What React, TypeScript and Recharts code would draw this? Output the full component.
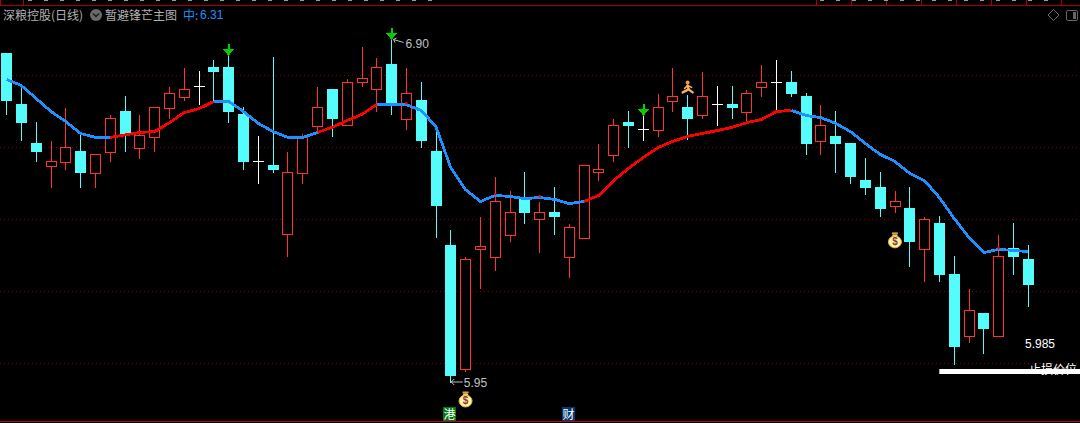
import React from "react";
import { ComposedChart, Bar, Line, XAxis, YAxis, CartesianGrid, ReferenceDot, ReferenceLine } from "recharts";

const opens = [
  6.864, 6.722, 6.614, 6.55, 6.561, 6.592, 6.531, 6.589, 6.703, 6.6,
  6.631, 6.711, 6.742, 6.772, 6.825, 6.825, 6.694, 6.564, 6.553, 6.361,
  6.531, 6.661, 6.764, 6.664, 6.783, 6.764, 6.833, 6.681, 6.733, 6.592,
  6.331, 5.986, 6.319, 6.297, 6.358, 6.458, 6.403, 6.422, 6.297, 6.35,
  6.533, 6.581, 6.672, 6.653, 6.65, 6.731, 6.714, 6.692, 6.722, 6.722,
  6.7, 6.769, 6.783, 6.783, 6.744, 6.619, 6.633, 6.614, 6.511, 6.492,
  6.439, 6.433, 6.319, 6.392, 6.25, 6.078, 6.142, 6.078, 6.322, 6.292,
];
const closes = [
  6.733, 6.672, 6.592, 6.564, 6.603, 6.533, 6.583, 6.683, 6.642, 6.636,
  6.714, 6.753, 6.764, 6.772, 6.814, 6.703, 6.564, 6.564, 6.542, 6.533,
  6.633, 6.714, 6.683, 6.783, 6.794, 6.825, 6.722, 6.753, 6.622, 6.442,
  5.969, 6.292, 6.328, 6.453, 6.422, 6.422, 6.422, 6.411, 6.381, 6.553,
  6.542, 6.664, 6.664, 6.653, 6.714, 6.744, 6.683, 6.744, 6.722, 6.714,
  6.753, 6.783, 6.783, 6.753, 6.614, 6.664, 6.614, 6.522, 6.492, 6.433,
  6.453, 6.342, 6.403, 6.25, 6.05, 6.15, 6.1, 6.3, 6.3, 6.222,
];
const highs = [
  6.864, 6.775, 6.672, 6.619, 6.711, 6.642, 6.583, 6.692, 6.744, 6.692,
  6.714, 6.769, 6.822, 6.814, 6.844, 6.858, 6.714, 6.633, 6.853, 6.589,
  6.639, 6.769, 6.764, 6.792, 6.881, 6.85, 6.9, 6.822, 6.783, 6.658,
  6.372, 6.297, 6.408, 6.519, 6.481, 6.533, 6.45, 6.492, 6.389, 6.553,
  6.611, 6.681, 6.703, 6.689, 6.75, 6.822, 6.747, 6.811, 6.772, 6.772,
  6.761, 6.831, 6.844, 6.814, 6.753, 6.719, 6.703, 6.614, 6.572, 6.533,
  6.481, 6.492, 6.408, 6.411, 6.3, 6.208, 6.142, 6.358, 6.392, 6.331,
];
const lows = [
  6.694, 6.622, 6.564, 6.492, 6.542, 6.492, 6.492, 6.564, 6.592, 6.572,
  6.592, 6.683, 6.733, 6.722, 6.728, 6.672, 6.542, 6.503, 6.533, 6.3,
  6.503, 6.642, 6.633, 6.664, 6.772, 6.703, 6.694, 6.653, 6.603, 6.353,
  5.95, 5.981, 6.211, 6.261, 6.342, 6.392, 6.311, 6.361, 6.242, 6.35,
  6.511, 6.564, 6.603, 6.622, 6.633, 6.703, 6.625, 6.683, 6.664, 6.683,
  6.669, 6.744, 6.7, 6.744, 6.583, 6.583, 6.533, 6.503, 6.472, 6.411,
  6.422, 6.272, 6.231, 6.231, 6.0, 6.061, 6.031, 6.078, 6.25, 6.161,
];
const midLine = [
  6.789, 6.772, 6.736, 6.7, 6.672, 6.639, 6.628, 6.628, 6.635, 6.642,
  6.644, 6.669, 6.697, 6.708, 6.728, 6.728, 6.7, 6.667, 6.644, 6.628,
  6.628, 6.642, 6.656, 6.675, 6.692, 6.719, 6.719, 6.719, 6.703, 6.658,
  6.544, 6.483, 6.45, 6.467, 6.464, 6.458, 6.461, 6.456, 6.444, 6.45,
  6.467, 6.508, 6.542, 6.572, 6.6, 6.617, 6.631, 6.639, 6.647, 6.656,
  6.669, 6.678, 6.7, 6.703, 6.689, 6.683, 6.667, 6.644, 6.611, 6.581,
  6.561, 6.528, 6.508, 6.461, 6.403, 6.35, 6.308, 6.317, 6.314, 6.311,
];
const risingSpans = [[7, 14], [21, 25], [39, 53]];
const redBlips = [27, 33, 36, 67];
const gridValues = [6.0, 6.2, 6.4, 6.6, 6.8];
const sellArrows = [15, 26, 43];
const moneyBags = [[31, 5.9], [60, 6.342]];
const runner = [46, 6.767];
const stopLossLevel = 5.978;
const stopLossStart = 63;
const stopLossLabel = "5.985";
const stopLossName = "止损价位";
const highLabel = { index: 26, value: 6.9, text: "6.90" };
const lowLabel = { index: 30, value: 5.95, text: "5.95" };
const badges = [
  { index: 30, text: "港", color: "#007a10" },
  { index: 38, text: "财", color: "#003a70" },
];
const stockTitle = "深粮控股(日线)";
const indicatorTitle = "暂避锋芒主图";
const midName = "中:";
const midValue = "6.31";
const topTicks = [0.5, 23.5, 816.5, 851.5, 886.5, 921.5, 956.5, 991.5, 1026.5, 1061.5];

const inRising = (i: number) => risingSpans.some(([a, b]) => i >= a && i <= b);
const inFalling = (i: number) => !risingSpans.some(([a, b]) => i > a && i < b);

const rows = opens.map((open, i) => ({
  i,
  open,
  close: closes[i],
  high: highs[i],
  low: lows[i],
  range: [lows[i], highs[i]],
  red: inRising(i) ? midLine[i] : null,
  blue: inFalling(i) ? midLine[i] : null,
  blip: redBlips.includes(i) ? midLine[i] + 0.004 : null,
}));

const RED = "#ff3232";
const CYAN = "#54fcfc";

const Candle = (props: any) => {
  const { x, y, width, height, payload } = props;
  const cx = Math.floor(x + width / 2) + 0.5;
  const unit = height / (payload.high - payload.low);
  const yOf = (v: number) => Math.round(y + (payload.high - v) * unit + 0.5);
  const top = yOf(Math.max(payload.open, payload.close));
  const bottom = yOf(Math.min(payload.open, payload.close));
  const hi = yOf(payload.high);
  const lo = yOf(payload.low);
  const up = payload.close > payload.open;
  const doji = payload.close === payload.open;
  const color = doji ? "#ffffff" : up ? RED : CYAN;
  return (
    <g shapeRendering="crispEdges">
      <line x1={cx} x2={cx} y1={hi} y2={lo + 1} stroke={color} strokeWidth={1} />
      {doji ? (
        <line x1={cx - 5.5} x2={cx + 5.5} y1={top + 0.5} y2={top + 0.5} stroke={color} strokeWidth={1} />
      ) : up ? (
        <rect x={cx - 5} y={top + 0.5} width={10} height={bottom - top} fill="#000" stroke={color} strokeWidth={1} />
      ) : (
        <rect x={cx - 5.5} y={top} width={11} height={bottom - top + 1} fill={color} />
      )}
    </g>
  );
};

const ArrowDown = ({ cx, cy }: any) => {
  const c = Math.floor(cx) + 0.5;
  const tip = Math.round(cy) + 1;
  return (
    <g shapeRendering="crispEdges">
      <rect x={c - 1} y={tip - 12} width={2} height={8} fill="#00d000" />
      <polygon points={`${c - 5.5},${tip - 7} ${c + 5.5},${tip - 7} ${c},${tip}`} fill="#00d000" />
    </g>
  );
};

const MoneyBag = ({ cx, cy }: any) => (
  <g>
    <rect x={cx - 3} y={cy - 8} width={6} height={2} fill="#e0a030" />
    <path d={`M${cx - 2},${cy - 6} L${cx + 2},${cy - 6} L${cx + 3},${cy - 4} L${cx - 3},${cy - 4} Z`} fill="#f0e0b0" />
    <ellipse cx={cx} cy={cy + 1.5} rx={6.5} ry={6} fill="#fff4a8" stroke="#e8b030" strokeWidth={1} />
    <text x={cx} y={cy + 5} textAnchor="middle" fontSize={10} fontWeight="bold" fontFamily="Liberation Sans" fill="#8a3a30">$</text>
  </g>
);

const Runner = ({ cx, cy }: any) => (
  <g stroke="#f5b060" strokeWidth={2.4} fill="none" strokeLinecap="round">
    <circle cx={cx} cy={cy - 5} r={2} fill="#e89a50" stroke="none" />
    <path d={`M${cx},${cy - 2} L${cx + 1},${cy + 2} L${cx + 5},${cy + 5}`} />
    <path d={`M${cx + 1},${cy + 2} L${cx - 5},${cy + 5}`} />
    <path d={`M${cx - 3},${cy + 1} L${cx},${cy - 2} L${cx + 4},${cy}`} strokeWidth={1.6} />
  </g>
);

const HighNote = ({ cx, cy }: any) => (
  <g>
    <path d={`M${cx + 2},${cy} L${cx + 12},${cy + 3} M${cx + 2},${cy} l3,-1.5 M${cx + 2},${cy} l1.5,3`} stroke="#c0c0c0" strokeWidth={1} fill="none" />
    <text x={cx + 14} y={cy + 9} fontSize={12} fontFamily="Liberation Sans" fill="#c0c0c0">{highLabel.text}</text>
  </g>
);

const LowNote = ({ cx, cy }: any) => (
  <g>
    <path d={`M${cx + 0.5},${cy + 0.5} L${cx + 12},${cy + 0.5} M${cx + 0.5},${cy + 0.5} l3,-3 M${cx + 0.5},${cy + 0.5} l3,3`} stroke="#c0c0c0" strokeWidth={1} fill="none" />
    <text x={cx + 13} y={cy + 6} fontSize={12} fontFamily="Liberation Sans" fill="#c0c0c0">{lowLabel.text}</text>
  </g>
);

const Badge = ({ cx, text, color }: any) => (
  <g>
    <rect x={Math.floor(cx) - 7} y={407} width={13} height={14} fill={color} />
    <text x={Math.floor(cx) - 0.5} y={418.5} textAnchor="middle" fontSize={12} fontFamily="Noto Sans CJK SC" fill="#ffffff">{text}</text>
  </g>
);

const StopText = () => (
  <g>
    <text x={1025} y={348} fontSize={12} fontFamily="Liberation Sans" fill="#ffffff">{stopLossLabel}</text>
    <text x={1029} y={374} fontSize={12} fontFamily="Noto Sans CJK SC" fill="#ffffff">{stopLossName}</text>
  </g>
);

const titleStyle: React.CSSProperties = { position: "absolute", top: 7, fontSize: 12, lineHeight: "16px", fontFamily: "Noto Sans CJK SC", whiteSpace: "nowrap" };

export default function App() {
  return (
    <div style={{ position: "absolute", left: 0, top: 0, width: 1080, height: 423, background: "#000", overflow: "hidden" }}>
      <svg width={1080} height={423} style={{ position: "absolute", left: 0, top: 0 }}>
        <line x1={0} x2={1080} y1={5.5} y2={5.5} stroke="#a80010" strokeWidth={1} />
        {topTicks.map((t) => (
          <line key={t} x1={t} x2={t} y1={0} y2={5} stroke="#a80010" strokeWidth={1} />
        ))}
        <line x1={28} x2={440} y1={0.5} y2={0.5} stroke="#9a9a9a" strokeDasharray="4 12" />
        <line x1={820} x2={1060} y1={0.5} y2={0.5} stroke="#9a9a9a" strokeDasharray="4 12" />
        <line x1={0} x2={1080} y1={421.5} y2={421.5} stroke="#c00010" strokeWidth={1} />
        <circle cx={96} cy={15} r={6} fill="#6a6a6a" />
        <path d="M93,13.5 L96,16.5 L99,13.5" stroke="#1a1a1a" strokeWidth={1.5} fill="none" />
        <path d="M1053.5,9.5 L1059,15 L1053.5,20.5 L1048,15 Z" stroke="#666" fill="none" />
        <rect x={1066.5} y={10.5} width={11} height={10} rx={1.5} stroke="#666" fill="none" />
        <rect x={1073} y={12} width={3} height={7} fill="#666" />
      </svg>
      <div style={{ ...titleStyle, left: 3, color: "#b0b0b0" }}>{stockTitle}</div>
      <div style={{ ...titleStyle, left: 105, color: "#b0b0b0" }}>{indicatorTitle}</div>
      <div style={{ ...titleStyle, left: 183, color: "#1e90ff" }}>{midName}</div>
      <div style={{ ...titleStyle, left: 200, color: "#1e90ff", fontFamily: "Liberation Sans" }}>{midValue}</div>
      <div style={{ position: "absolute", left: 0, top: 0 }}>
        <ComposedChart width={1080} height={423} data={rows} margin={{ top: 0, right: 0, bottom: 0, left: 0 }} style={{ background: "transparent" }}>
          <XAxis dataKey="i" type="number" domain={[-0.4458, 72.502]} hide allowDataOverflow />
          <YAxis type="number" domain={[5.83472, 7.00972]} hide allowDataOverflow width={0} />
          <CartesianGrid vertical={false} horizontalValues={gridValues} stroke="#800000" strokeDasharray="1 3" />
          <Bar dataKey="range" barSize={11} isAnimationActive={false} shape={<Candle />} />
          <Line dataKey="red" stroke="#ff0000" strokeWidth={2.8} dot={false} activeDot={false} isAnimationActive={false} connectNulls={false} shapeRendering="crispEdges" />
          <Line dataKey="blip" stroke="none" dot={{ r: 1.3, fill: "#ff0000", stroke: "none" }} activeDot={false} isAnimationActive={false} />
          <Line dataKey="blue" stroke="#1e90ff" strokeWidth={2.8} dot={false} activeDot={false} isAnimationActive={false} connectNulls={false} shapeRendering="crispEdges" />
          <ReferenceLine segment={[{ x: stopLossStart, y: stopLossLevel }, { x: 72.502, y: stopLossLevel }]} stroke="#ffffff" strokeWidth={5} />
          {sellArrows.map((i) => (
            <ReferenceDot key={i} x={i} y={highs[i]} r={0} shape={<ArrowDown />} />
          ))}
          {moneyBags.map(([i, v]) => (
            <ReferenceDot key={i} x={i} y={v} r={0} shape={<MoneyBag />} />
          ))}
          <ReferenceDot x={runner[0]} y={runner[1]} r={0} shape={<Runner />} />
          <ReferenceDot x={highLabel.index} y={highLabel.value} r={0} shape={<HighNote />} />
          <ReferenceDot x={lowLabel.index} y={lowLabel.value} r={0} shape={<LowNote />} />
          <ReferenceDot x={stopLossStart} y={stopLossLevel} r={0} shape={<StopText />} />
          {badges.map((b) => (
            <ReferenceDot key={b.index} x={b.index} y={5.95} r={0} shape={<Badge text={b.text} color={b.color} />} />
          ))}
        </ComposedChart>
      </div>
    </div>
  );
}
